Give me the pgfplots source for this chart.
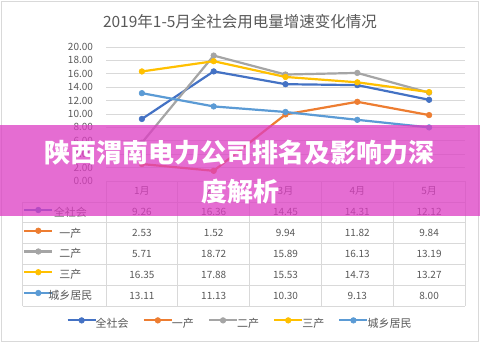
\documentclass[border=0pt]{standalone}
\usepackage{pgfplots}
\pgfplotsset{compat=1.18}
\usepackage{fontspec}
\setmainfont{Noto Sans CJK SC}
\definecolor{c1}{HTML}{4472C4}
\definecolor{c2}{HTML}{ED7D31}
\definecolor{c3}{HTML}{A5A5A5}
\definecolor{c4}{HTML}{FFC000}
\definecolor{c5}{HTML}{5B9BD5}
\definecolor{txt}{RGB}{89,89,89}
\definecolor{gridc}{RGB}{217,217,217}
\definecolor{banner}{RGB}{221,61,195}
\pgfplotsset{
  myimg/.style={legend image code/.code={\draw[yshift=3.6pt,mark repeat=2,mark phase=2] plot coordinates {(0pt,0pt)(14pt,0pt)(28pt,0pt)};}},
  ser/.style={#1, line width=2.2pt, mark=*, mark size=2.8pt, mark options={line width=0.6pt}, myimg},
}
\begin{document}
\begin{tikzpicture}
\useasboundingbox (0pt,0pt) rectangle (480pt,343pt);
\begin{scope}[x=1pt,y=1pt]
\fill[white] (0,0) rectangle (480,343);
\draw[gridc, line width=0.8pt] (1.5,1.5) rectangle (478.5,341.5);
\node[txt, font=\fontsize{15.5}{17}\selectfont] at (240,321.5) {2019年1-5月全社会用电量增速变化情况};
\end{scope}

\begin{axis}[
  at={(106pt,162pt)}, anchor=south west, scale only axis, width=359pt, height=134pt,
  xmin=-0.5, xmax=4.5, ymin=0, ymax=20,
  ytick={0,2,...,20}, xtick=\empty,
  ymajorgrids, grid style={gridc, line width=0.8pt},
  axis line style={draw=none},
  major tick length=0pt,
  yticklabel shift=9.5pt,
  yticklabel style={txt, font=\fontsize{10}{12}\selectfont, /pgf/number format/.cd, fixed, fixed zerofill, precision=2, assume math mode=true},
  clip=false,
  legend columns=5,
  legend style={at={(0.372,-1.067)}, anchor=center, draw=none, fill=none, text=txt,
    font=\fontsize{11}{13}\selectfont, nodes={inner sep=1pt},
    /tikz/every odd column/.append style={column sep=-2pt},
    /tikz/every even column/.append style={column sep=13pt}},
]
\addplot[ser=c1] coordinates {(0,9.26)(1,16.36)(2,14.45)(3,14.31)(4,12.12)};
\addlegendentry{全社会}
\addplot[ser=c2] coordinates {(0,2.53)(1,1.52)(2,9.94)(3,11.82)(4,9.84)};
\addlegendentry{一产}
\addplot[ser=c3] coordinates {(0,5.71)(1,18.72)(2,15.89)(3,16.13)(4,13.19)};
\addlegendentry{二产}
\addplot[ser=c4] coordinates {(0,16.35)(1,17.88)(2,15.53)(3,14.73)(4,13.27)};
\addlegendentry{三产}
\addplot[ser=c5] coordinates {(0,13.11)(1,11.13)(2,10.30)(3,9.13)(4,8.00)};
\addlegendentry{城乡居民}
\end{axis}

\begin{axis}[
  at={(106pt,162pt)}, anchor=south west, scale only axis, width=359pt, height=134pt,
  xmin=-0.5, xmax=4.5, ymin=0, ymax=20, hide axis,
  legend style={at={(-0.2312,-0.194)}, anchor=north west, draw=none, fill=none, text=txt,
    inner sep=0pt, row sep=8.1pt,
    /tikz/every odd column/.append style={column sep=-6pt},
    font=\fontsize{11}{13}\selectfont, nodes={inner sep=1pt, text height=8pt, text depth=2.5pt}},
]
\addlegendimage{ser=c1}
\addlegendentry{全社会}
\addlegendimage{ser=c2}
\addlegendentry{一产}
\addlegendimage{ser=c3}
\addlegendentry{二产}
\addlegendimage{ser=c4}
\addlegendentry{三产}
\addlegendimage{ser=c5}
\addlegendentry{城乡居民}
\end{axis}

\begin{scope}[x=1pt,y=1pt]
% data table grid
\begin{scope}[gridc, line width=0.8pt]
\foreach \x in {106,177.8,249.6,321.4,393.2,465} \draw (\x,162) -- (\x,37);
\draw (22.5,141) -- (22.5,37);
\foreach \y in {141,120.2,99.4,78.6,57.8,37} \draw (22.5,\y) -- (465,\y);
\end{scope}
\begin{scope}[txt, font=\fontsize{10}{12}\selectfont]
\foreach \m [count=\i from 0] in {1月,2月,3月,4月,5月}
  \node at ({141.9+71.8*\i},152) {\m};
\foreach \r [count=\k from 0] in {
  {9.26,16.36,14.45,14.31,12.12},
  {2.53,1.52,9.94,11.82,9.84},
  {5.71,18.72,15.89,16.13,13.19},
  {16.35,17.88,15.53,14.73,13.27},
  {13.11,11.13,10.30,9.13,8.00}}{
  \foreach \v [count=\i from 0] in \r
    \node at ({141.9+71.8*\i},{130.6-20.8*\k}) {\v};
}
\end{scope}

% overlay banner
\fill[banner, opacity=0.75] (0,127) rectangle (480,218);
\node[white, font=\fontsize{26}{28}\bfseries] at (240,190) {陕西渭南电力公司排名及影响力深};
\node[white, font=\fontsize{26}{28}\bfseries] at (240,151.5) {度解析};
\end{scope}
\end{tikzpicture}
\end{document}
